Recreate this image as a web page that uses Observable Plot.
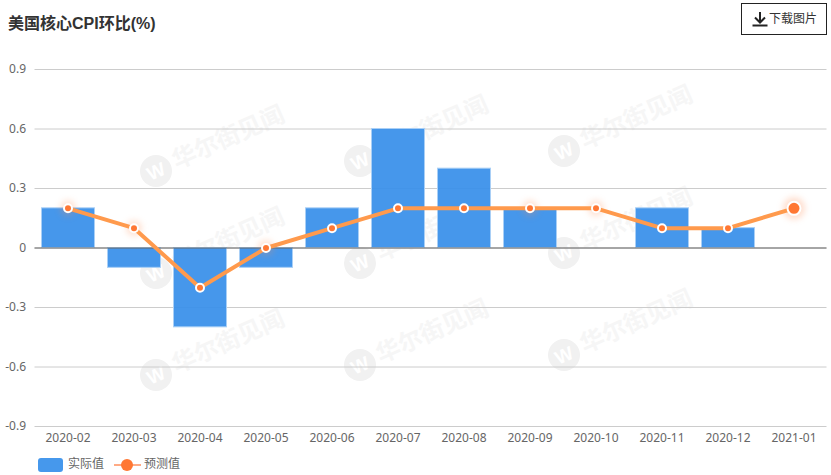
<!DOCTYPE html>
<html lang="zh">
<head>
<meta charset="utf-8">
<script src="https://cdn.jsdelivr.net/npm/d3@7"></script>
<script src="https://cdn.jsdelivr.net/npm/@observablehq/plot@0.6"></script>
<style>
  html, body { margin: 0; padding: 0; background: #fff; overflow: hidden; }
  body { font-family: "Liberation Sans", "Noto Sans CJK SC", sans-serif; }
  #page { position: relative; width: 831px; height: 475px; }
  #mark { position: absolute; left: 0; top: 0; }
  #head { position: relative; height: 50px; }
  #title { position: absolute; left: 8px; top: 14px; font-size: 16px; line-height: 20px; font-weight: 700; color: #333; white-space: nowrap; }
  #btn { position: absolute; left: 741px; top: 3px; width: 84px; height: 30px; border: 1px solid #222; font-size: 12px; color: #333; }
  #btn svg { position: absolute; left: 10px; top: 7px; }
  #btn span { position: absolute; left: 27px; top: 7px; line-height: 16px; white-space: nowrap; }
  #chart { position: relative; height: 400px; }
  #chart svg { background: transparent; display: block; }
  #legend { position: relative; height: 25px; font-size: 12px; color: #666; }
  #legend > * { position: absolute; }
  .sw1 { left: 38px; top: 8px; width: 25px; height: 14px; border-radius: 3px; background: #4698ec; }
  .t1 { left: 68px; top: 6px; line-height: 16px; }
  .sw2 { left: 114px; top: 6px; }
  .t2 { left: 144px; top: 6px; line-height: 16px; }
</style>
</head>
<body>
<div id="page">
  <svg id="mark" width="831" height="475"></svg>
  <div id="head">
    <div id="title">美国核心CPI环比(%)</div>
    <div id="btn">
      <svg width="16" height="16" viewBox="0 0 16 16"><path d="M8 1V11M3 6.5L8 11.5L13 6.5" fill="none" stroke="#222" stroke-width="2"/><path d="M0.5 14.5H15.5" stroke="#222" stroke-width="2"/></svg>
      <span>下载图片</span>
    </div>
  </div>
  <div id="chart"></div>
  <div id="legend">
    <div class="sw1"></div><div class="t1">实际值</div>
    <svg class="sw2" width="28" height="18"><path d="M0 9H27" stroke="#ffab85" stroke-width="2"/><circle cx="13" cy="9" r="6" fill="#ff7733"/></svg>
    <div class="t2">预测值</div>
  </div>
</div>
<script>
const months = ["2020-02","2020-03","2020-04","2020-05","2020-06","2020-07","2020-08","2020-09","2020-10","2020-11","2020-12","2021-01"];
const actual = [0.2,-0.1,-0.4,-0.1,0.2,0.6,0.4,0.2,null,0.2,0.1,null];
const forecast = [0.2,0.1,-0.2,0,0.1,0.2,0.2,0.2,0.2,0.1,0.1,0.2];
const yTicks = [-0.9,-0.6,-0.3,0,0.3,0.6,0.9];
const glowMonths = ["2020-02","2020-03","2020-05","2020-09","2020-10"];
const lastMonth = "2021-01";

const rows = months.map((m, i) => ({month: m, actual: actual[i], forecast: forecast[i]}));
const latest = rows.filter(d => d.month === lastMonth);
const earlier = rows.filter(d => d.month !== lastMonth);
const glowing = rows.filter(d => glowMonths.includes(d.month));

const textColor = "#666";
const chart = Plot.plot({
  width: 831, height: 400,
  marginTop: 19, marginBottom: 24, marginLeft: 34.5, marginRight: 4.5,
  style: {background: "transparent", fontFamily: '"Noto Sans","Noto Sans CJK SC",sans-serif', fontSize: "12px", overflow: "visible"},
  x: {domain: months, paddingInner: 0.2, paddingOuter: 0.1, label: null},
  y: {domain: [-0.9, 0.9], label: null},
  marks: [
    Plot.ruleY(yTicks, {stroke: "#ccc", strokeWidth: 1}),
    Plot.barY(rows.filter(d => d.actual != null), {x: "month", y1: () => 0, y2: "actual", dx: 0.5, fill: "#3a90ea", fillOpacity: 0.94, stroke: "#a9cff6", strokeWidth: 1}),
    Plot.ruleY([0], {stroke: "#666", strokeWidth: 1}),
    Plot.axisY({ticks: yTicks, tickSize: 0, tickPadding: 9, tickFormat: d => String(d), fill: textColor, label: null}),
    Plot.axisX({tickSize: 0, tickPadding: 7, fill: textColor, label: null}),
    Plot.dot(glowing, {x: "month", y: "forecast", r: 8, fill: "#ff8a50", fillOpacity: 0.25, imageFilter: "blur(3px)"}),
    Plot.dot(latest, {x: "month", y: "forecast", r: 11, fill: "#ff8a50", fillOpacity: 0.28, imageFilter: "blur(3px)"}),
    Plot.line(rows, {x: "month", y: "forecast", stroke: "#ff9a4d", strokeWidth: 4, curve: "linear"}),
    Plot.dot(earlier, {x: "month", y: "forecast", r: 4, fill: "#ff7733", stroke: "#fff", strokeWidth: 2}),
    Plot.dot(latest, {x: "month", y: "forecast", r: 6.5, fill: "#ff7733", stroke: "#fff", strokeWidth: 2})
  ]
});
document.getElementById("chart").appendChild(chart);

// Decorative watermark tiles behind the chart
const mark = d3.select("#mark");
[156, 360, 564].forEach((cx, col) => {
  [171, 273, 375].forEach(rowY => {
    const cy = rowY - col * 10;
    mark.append("circle").attr("cx", cx).attr("cy", cy).attr("r", 16).attr("fill", "#f1f1f1");
    mark.append("text").attr("transform", `translate(${cx},${cy}) rotate(-24)`)
      .attr("text-anchor", "middle").attr("dy", "0.36em")
      .attr("font-size", 19).attr("font-weight", 700).attr("fill", "#fff")
      .attr("font-family", "Liberation Sans").text("W");
    mark.append("text").attr("transform", `translate(${cx + 72},${cy - 34}) rotate(-24)`)
      .attr("text-anchor", "middle").attr("dy", "0.36em")
      .attr("font-size", 24).attr("font-weight", 700).attr("fill", "#f6f6f6")
      .attr("font-family", "Noto Sans CJK SC").text("华尔街见闻");
  });
});
</script>
</body>
</html>
